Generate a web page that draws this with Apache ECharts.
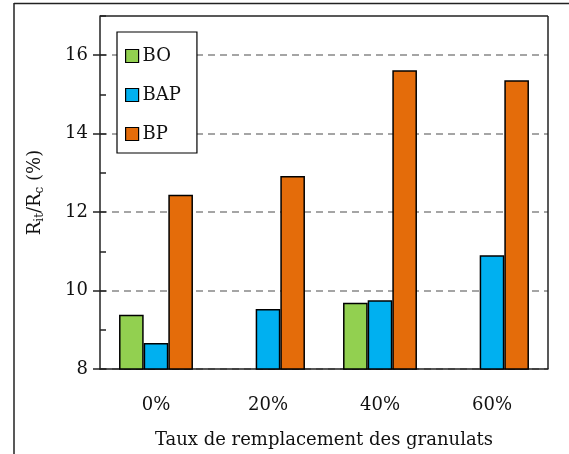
<!DOCTYPE html>
<html>
<head>
<meta charset="utf-8">
<script src="https://cdn.jsdelivr.net/npm/echarts@6/dist/echarts.min.js"></script>
<style>
  html, body { margin: 0; padding: 0; background: #fff; }
  #chart { width: 569px; height: 454px; }
</style>
</head>
<body>
<div id="chart"></div>
<script>
// Replacement rate of aggregates (x categories)
const categories = ['0%', '20%', '40%', '60%'];
// Ratio Rit/Rc (%) per concrete type (0 = not measured)
const seriesNames = ['BO', 'BAP', 'BP'];
const valuesBO = [9.38, 0, 9.69, 0];
const valuesBAP = [8.66, 9.53, 9.75, 10.9];
const valuesBP = [12.44, 12.92, 15.62, 15.36];
const yTicks = [8, 10, 12, 14, 16];

const FONT = '"DejaVu Serif", "Liberation Serif", serif';
const FS = 18;
const colors = ['#92D050', '#00B0F0', '#E46C0A'];

const chart = echarts.init(document.getElementById('chart'), null, { renderer: 'canvas' });

const barStyle = (c) => ({ color: c, borderColor: '#000', borderWidth: 1.5 });

chart.setOption({
  animation: false,
  backgroundColor: '#fff',
  grid: { left: 100, top: 16, right: 21, bottom: 85, containLabel: false },
  legend: {
    left: 117, top: 32, orient: 'vertical',
    padding: [15, 16, 10, 8],
    itemGap: 21,
    itemWidth: 13, itemHeight: 13,
    borderColor: '#000', borderWidth: 1.2,
    backgroundColor: '#fff',
    icon: 'rect',
    textStyle: { fontFamily: FONT, fontSize: FS, color: '#111', padding: [0, 0, 0, -1] },
    data: seriesNames.map((n, i) => ({ name: n, itemStyle: { borderColor: '#000', borderWidth: 1.2, color: colors[i] } }))
  },
  xAxis: {
    type: 'category', data: categories,
    axisLine: { lineStyle: { color: '#222', width: 1.5 } },
    axisTick: { show: false },
    axisLabel: { fontFamily: FONT, fontSize: FS, color: '#111', margin: 27 },
    name: 'Taux de remplacement des granulats',
    nameLocation: 'middle', nameGap: 62,
    nameTextStyle: { fontFamily: FONT, fontSize: FS, color: '#111' }
  },
  yAxis: [{
    type: 'value', min: 8, max: 17, interval: 2,
    axisLine: { show: true, lineStyle: { color: '#222', width: 1.5 } },
    axisTick: { show: true, inside: false, length: 7, lineStyle: { color: '#222', width: 1.5 },
      customValues: yTicks },
    axisLabel: { fontFamily: FONT, fontSize: FS, color: '#111', margin: 12, customValues: yTicks },
    splitLine: { show: true, lineStyle: { color: '#888', type: [7, 5], width: 1.5 } },
    name: '{n|R}{s|it}{n|/R}{s|c}{n| (%)}',
    nameLocation: 'middle', nameGap: 54, nameRotate: 90,
    nameTextStyle: {
      rich: {
        n: { fontFamily: FONT, fontSize: FS, color: '#111' },
        s: { fontFamily: FONT, fontSize: 12, color: '#111', verticalAlign: 'bottom', padding: [9, 0, 0, 0] }
      }
    }
  }, {
    // inner minor ticks at every unit
    type: 'value', min: 8, max: 17, interval: 1, position: 'left',
    axisLine: { show: false },
    axisTick: { show: true, inside: true, length: 6, lineStyle: { color: '#222', width: 1.5 } },
    axisLabel: { show: false },
    splitLine: { show: false }
  }],
  graphic: [
    { type: 'line', shape: { x1: 14, y1: 3.5, x2: 569, y2: 3.5 }, style: { stroke: '#222', lineWidth: 1.5 }, z: 100 },
    { type: 'line', shape: { x1: 14, y1: 3, x2: 14, y2: 454 }, style: { stroke: '#222', lineWidth: 1.5 }, z: 100 },
    { type: 'line', shape: { x1: 548, y1: 16, x2: 548, y2: 369 }, style: { stroke: '#222', lineWidth: 1.5 }, z: 100 },
    { type: 'line', shape: { x1: 100, y1: 16, x2: 548, y2: 16 }, style: { stroke: '#222', lineWidth: 1.5 }, z: 100 }
  ],
  series: [
    { name: 'BO', type: 'bar', data: valuesBO, itemStyle: barStyle(colors[0]), barGap: '0%', barCategoryGap: '34%' },
    { name: 'BAP', type: 'bar', data: valuesBAP, itemStyle: barStyle(colors[1]), barGap: '0%', barCategoryGap: '34%' },
    { name: 'BP', type: 'bar', data: valuesBP, itemStyle: barStyle(colors[2]), barGap: '0%', barCategoryGap: '34%' }
  ]
});
</script>
</body>
</html>
